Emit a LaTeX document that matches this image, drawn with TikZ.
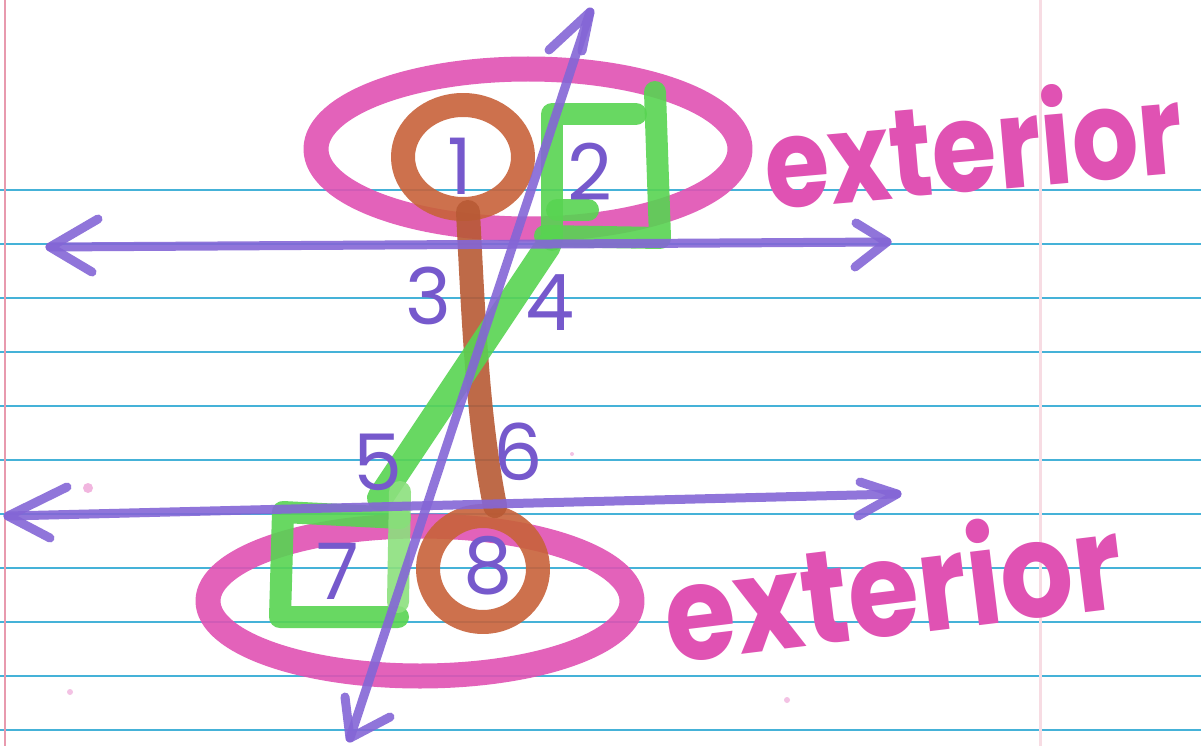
\documentclass[tikz,border=0pt]{standalone}
\usepackage{graphicx}
\usepackage{fontspec}
\newfontfamily\hand{Poppins}
\definecolor{ruleblue}{HTML}{45B2D8}
\definecolor{margin}{HTML}{E89AAE}
\definecolor{mpurple}{HTML}{8466D6}
\definecolor{npurple}{HTML}{7659CC}
\definecolor{mpink}{HTML}{E052B3}
\definecolor{mbrown}{HTML}{C8623A}
\definecolor{mgreen}{HTML}{58D452}
\definecolor{lgreen}{HTML}{8CE07E}
\tikzset{
  marker/.style={line cap=round, line join=round, opacity=0.9},
  purpleline/.style={marker, draw=mpurple, line width=9pt},
  tipstroke/.style={marker, draw=mpurple, line width=9pt},
  pinkring/.style={marker, draw=mpink, line width=25pt},
  brownring/.style={marker, draw=mbrown, line width=24pt},
  greenbox/.style={marker, draw=mgreen, line width=22pt},
  num/.style={text=npurple, font=\hand\fontsize{78}{78}\selectfont, inner sep=0pt},
  word/.style={text=mpink, font=\hand\bfseries, inner sep=0pt}
}
\begin{document}
\begin{tikzpicture}[x=1pt,y=-1pt]
\useasboundingbox (0,0) rectangle (1201,746);
\fill[white] (0,0) rectangle (1201,746);
% paper
\foreach \k in {0,...,10}{
  \draw[ruleblue, line width=1.6pt] (0,190+54*\k) -- (1201,190+54*\k);
}
\draw[margin, line width=2pt] (5,0) -- (5,746);
\draw[margin!35, line width=3pt] (1040,0) -- (1040,746);
% pink specks
\fill[mpink!70, opacity=0.6] (88,488) circle (5pt);
\fill[mpink!70, opacity=0.5] (70,692) circle (3pt);
\fill[mpink!70, opacity=0.5] (787,700) circle (3pt);
\fill[mpink!70, opacity=0.5] (572,454) circle (2pt);
% pink ellipses
\draw[pinkring] (528,149) ellipse [x radius=212, y radius=80];
\draw[pinkring] (420,601) ellipse [x radius=212, y radius=75];
% brown circles and stick
\draw[brownring] (463,157) ellipse [x radius=60, y radius=52];
\draw[brownring] (483,569) ellipse [x radius=55, y radius=53];
\draw[brownring, draw=mbrown!92!black] (468,212) .. controls (474,330) and (478,420) .. (495,506);
% green boxes and Z
\draw[greenbox] (552,240) -- (552,114) -- (636,114);
\draw[greenbox] (557,210) -- (588,210);
\draw[greenbox] (655,92) -- (660,238) -- (545,236);
\draw[greenbox, line width=26pt] (548,246) -- (380,498);
\draw[greenbox] (400,518) -- (283,512) -- (280,617) -- (398,617);
\draw[marker, draw=lgreen, line width=22pt] (400,492) -- (398,602);
% purple lines
\coordinate (hL1) at (50,247);
\coordinate (hR1) at (887,242);
\coordinate (hL2) at (8,516);
\coordinate (hR2) at (897,494);
\coordinate (tT) at (590,12);
\coordinate (tB) at (350,738);
\draw[purpleline] (hL1) -- (hR1);
\draw[tipstroke] (98,219) -- (hL1) -- (92,272);
\draw[tipstroke] (856,223) -- (hR1) -- (855,267);
\draw[purpleline] (hL2) -- (hR2);
\draw[tipstroke] (67,487) -- (hL2) -- (50,538);
\draw[tipstroke] (860,482) -- (hR2) -- (858,516);
\draw[purpleline] (tB) -- (tT);
\draw[tipstroke] (549,50) -- (tT) -- (582,51);
\draw[tipstroke] (345,697) -- (tB) -- (390,717);
% numbers
\node[num] (n1) at (460,166) {1};
\node[num] (n2) at (590,172) {2};
\node[num] (n3) at (428,296) {3};
\node[num] (n4) at (550,303) {4};
\node[num] (n5) at (378,462) {5};
\node[num] (n6) at (518,452) {6};
\node[num] (n7) at (338,571) {7};
\node[num] (n8) at (488,566) {8};
% words
\node[word, rotate=5] (ext1) at (973,142) {\resizebox{420pt}{100pt}{exterior}};
\node[word, rotate=7] (ext2) at (892,583) {\resizebox{460pt}{106pt}{exterior}};
\end{tikzpicture}
\end{document}
